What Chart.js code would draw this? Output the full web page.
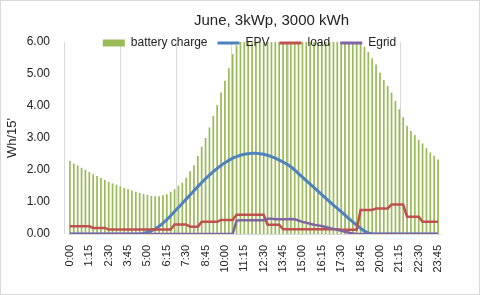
<!DOCTYPE html>
<html>
<head>
<meta charset="utf-8">
<script src="https://cdn.jsdelivr.net/npm/chart.js@4.4.1/dist/chart.umd.min.js"></script>
<style>
  html, body { margin: 0; padding: 0; background: #fff; }
  #wrap { width: 480px; height: 295px; box-sizing: border-box; border: 1px solid #d9d9d9; position: relative; }
</style>
</head>
<body>
<div id="wrap"><canvas id="chart"></canvas></div>
<script>
const times = [
  "0:00","0:15","0:30","0:45","1:00","1:15","1:30","1:45","2:00","2:15","2:30","2:45",
  "3:00","3:15","3:30","3:45","4:00","4:15","4:30","4:45","5:00","5:15","5:30","5:45",
  "6:00","6:15","6:30","6:45","7:00","7:15","7:30","7:45","8:00","8:15","8:30","8:45",
  "9:00","9:15","9:30","9:45","10:00","10:15","10:30","10:45","11:00","11:15","11:30","11:45",
  "12:00","12:15","12:30","12:45","13:00","13:15","13:30","13:45","14:00","14:15","14:30","14:45",
  "15:00","15:15","15:30","15:45","16:00","16:15","16:30","16:45","17:00","17:15","17:30","17:45",
  "18:00","18:15","18:30","18:45","19:00","19:15","19:30","19:45","20:00","20:15","20:30","20:45",
  "21:00","21:15","21:30","21:45","22:00","22:15","22:30","22:45","23:00","23:15","23:30","23:45"
];

const batteryCharge = [
  2.28, 2.20, 2.14, 2.07, 2.00, 1.94, 1.87, 1.81, 1.75, 1.69,
  1.63, 1.58, 1.54, 1.49, 1.44, 1.40, 1.36, 1.32, 1.28, 1.25,
  1.22, 1.19, 1.18, 1.18, 1.21, 1.24, 1.32, 1.40, 1.51, 1.60,
  1.76, 1.96, 2.15, 2.44, 2.73, 3.00, 3.33, 3.69, 4.03, 4.42,
  4.79, 5.18, 5.62, 5.90, 6.10, 6.45, 6.80, 7.10, 7.40, 7.65,
  7.85, 8.00, 8.10, 8.15, 8.15, 8.10, 8.00, 7.90, 7.80, 7.70,
  7.60, 7.50, 7.40, 7.30, 7.20, 7.10, 7.00, 6.90, 6.80, 6.70,
  6.60, 6.50, 6.40, 6.30, 6.20, 6.05, 5.85, 5.69, 5.49, 5.30,
  5.04, 4.81, 4.63, 4.42, 4.16, 3.90, 3.65, 3.38, 3.22, 3.09,
  2.94, 2.83, 2.68, 2.55, 2.44, 2.33
];

const epv = [
  0, 0, 0, 0, 0, 0, 0, 0, 0, 0,
  0, 0, 0, 0, 0, 0, 0, 0, 0, 0.02,
  0.06, 0.10, 0.16, 0.24, 0.34, 0.45, 0.57, 0.70, 0.83, 0.96,
  1.09, 1.22, 1.35, 1.48, 1.61, 1.73, 1.84, 1.95, 2.05, 2.14,
  2.23, 2.30, 2.37, 2.42, 2.46, 2.49, 2.51, 2.52, 2.52, 2.51,
  2.49, 2.46, 2.42, 2.37, 2.31, 2.25, 2.18, 2.10, 2.00, 1.89,
  1.78, 1.67, 1.56, 1.45, 1.34, 1.23, 1.12, 1.01, 0.90, 0.80,
  0.70, 0.59, 0.48, 0.38, 0.28, 0.18, 0.09, 0.03, 0, 0,
  0, 0, 0, 0, 0, 0, 0, 0, 0, 0,
  0, 0, 0, 0, 0, 0
];

const load = [
  0.24, 0.24, 0.24, 0.24, 0.24, 0.24, 0.19, 0.19, 0.19, 0.19,
  0.14, 0.14, 0.14, 0.14, 0.14, 0.14, 0.14, 0.14, 0.14, 0.14,
  0.14, 0.14, 0.14, 0.14, 0.14, 0.14, 0.14, 0.30, 0.30, 0.30,
  0.30, 0.23, 0.23, 0.23, 0.38, 0.38, 0.38, 0.38, 0.38, 0.44,
  0.44, 0.44, 0.44, 0.60, 0.60, 0.60, 0.60, 0.60, 0.60, 0.60,
  0.60, 0.29, 0.29, 0.29, 0.29, 0.15, 0.15, 0.15, 0.15, 0.15,
  0.15, 0.15, 0.15, 0.15, 0.15, 0.15, 0.15, 0.15, 0.15, 0.15,
  0.13, 0.13, 0.13, 0.13, 0.13, 0.75, 0.75, 0.75, 0.75, 0.80,
  0.80, 0.80, 0.80, 0.92, 0.92, 0.92, 0.92, 0.54, 0.54, 0.54,
  0.54, 0.38, 0.38, 0.38, 0.38, 0.38
];

const egrid = [
  0, 0, 0, 0, 0, 0, 0, 0, 0, 0,
  0, 0, 0, 0, 0, 0, 0, 0, 0, 0,
  0, 0, 0, 0, 0, 0, 0, 0, 0, 0,
  0, 0, 0, 0, 0, 0, 0, 0, 0, 0,
  0, 0, 0, 0.42, 0.43, 0.43, 0.43, 0.43, 0.43, 0.43,
  0.43, 0.48, 0.48, 0.46, 0.46, 0.46, 0.46, 0.47, 0.46, 0.42,
  0.38, 0.35, 0.32, 0.29, 0.27, 0.25, 0.22, 0.19, 0.16, 0.13,
  0.10, 0.07, 0.04, 0.02, 0, 0, 0, 0, 0, 0,
  0, 0, 0, 0, 0, 0, 0, 0, 0, 0,
  0, 0, 0, 0, 0, 0
];

const gridLines = [0, 1, 2, 3, 4, 5, 6];

Chart.defaults.font.family = "'Liberation Sans', Arial, sans-serif";
Chart.defaults.color = "#222";

// legend sits over the top of the plot, like excel; title is off-centre to the right
const layoutTweaks = {
  id: "layoutTweaks",
  afterInit(chart) {
    const lg = chart.legend;
    const fit = lg.fit.bind(lg);
    lg.fit = function () { fit(); this.height = 0; };
    lg._layers = () => [{ z: 1, draw: area => lg.draw(area) }];
  },
  afterUpdate(chart) {
    const lg = chart.legend;
    const dy = -15, dx = 29;
    lg.top += dy;
    lg.bottom = lg.top + 32;
    lg.left += dx;
    lg.right += dx;
    lg.legendHitBoxes.forEach(h => { h.top += dy; h.left += dx; });
    chart.titleBlock.left += 51;
    chart.titleBlock.right += 51;
  }
};

new Chart(document.getElementById("chart"), {
  data: {
    labels: times,
    datasets: [
      {
        type: "bar",
        label: "battery charge",
        data: batteryCharge,
        backgroundColor: "#9BBB59",
        barPercentage: 0.45,
        categoryPercentage: 1,
        order: 4
      },
      {
        type: "line",
        label: "EPV",
        data: epv,
        borderColor: "#4F81BD",
        borderWidth: 3,
        pointRadius: 0,
        order: 3
      },
      {
        type: "line",
        label: "load",
        data: load,
        borderColor: "#C0504D",
        borderWidth: 2.5,
        pointRadius: 0,
        order: 2
      },
      {
        type: "line",
        label: "Egrid",
        data: egrid,
        borderColor: "#8064A2",
        borderWidth: 2.5,
        pointRadius: 0,
        order: 1
      }
    ]
  },
  options: {
    responsive: true,
    maintainAspectRatio: false,
    animation: false,
    layout: { padding: { left: 0, right: 39, top: 0, bottom: 0 } },
    plugins: {
      title: {
        display: true,
        text: "June, 3kWp, 3000 kWh",
        font: { size: 15, weight: "normal" },
        color: "#222",
        padding: { top: 11, bottom: 12 }
      },
      legend: {
        position: "top",
        labels: {
          usePointStyle: true,
          pointStyleWidth: 22,
          boxHeight: 7,
          padding: 10,
          font: { size: 12 },
          color: "#222",
          sort: (a, b) => a.datasetIndex - b.datasetIndex,
          generateLabels: chart =>
            Chart.defaults.plugins.legend.labels.generateLabels(chart).map(item => {
              const ds = chart.data.datasets[item.datasetIndex];
              if (ds.type === "bar") {
                item.pointStyle = "rect";
                item.fillStyle = ds.backgroundColor;
                item.lineWidth = 0;
              } else {
                item.pointStyle = "line";
                item.strokeStyle = ds.borderColor;
                item.lineWidth = 3;
              }
              return item;
            })
        }
      },
      tooltip: { enabled: false }
    },
    scales: {
      x: {
        type: "category",
        grid: { display: false, drawTicks: false },
        border: { color: "#d9d9d9" },
        ticks: {
          autoSkip: false,
          minRotation: 90,
          maxRotation: 90,
          padding: 11,
          font: { size: 11 },
          color: "#222",
          callback: (v, i) => (i % 5 === 0 ? times[i] : null)
        },
        afterFit: s => { s.height = 60; }
      },
      x2: {
        type: "linear",
        axis: "x",
        position: "top",
        min: 4 / 56,
        max: 376 / 56,
        ticks: { display: false },
        grid: { color: "#d9d9d9", drawTicks: false },
        border: { display: false },
        afterBuildTicks: s => { s.ticks = gridLines.map(v => ({ value: v })); },
        afterFit: s => { s.height = 0; }
      },
      y: {
        min: 0,
        max: 6,
        ticks: {
          stepSize: 1,
          padding: 18,
          font: { size: 12 },
          color: "#222",
          callback: v => v.toFixed(2)
        },
        grid: { display: false, drawTicks: false },
        border: { display: false },
        title: {
          display: true,
          text: "Wh/15'",
          font: { size: 13 },
          color: "#222",
          padding: { top: 4, bottom: 0 }
        },
        afterFit: s => { s.width = 67; }
      }
    }
  },
  plugins: [layoutTweaks]
});
</script>
</body>
</html>
